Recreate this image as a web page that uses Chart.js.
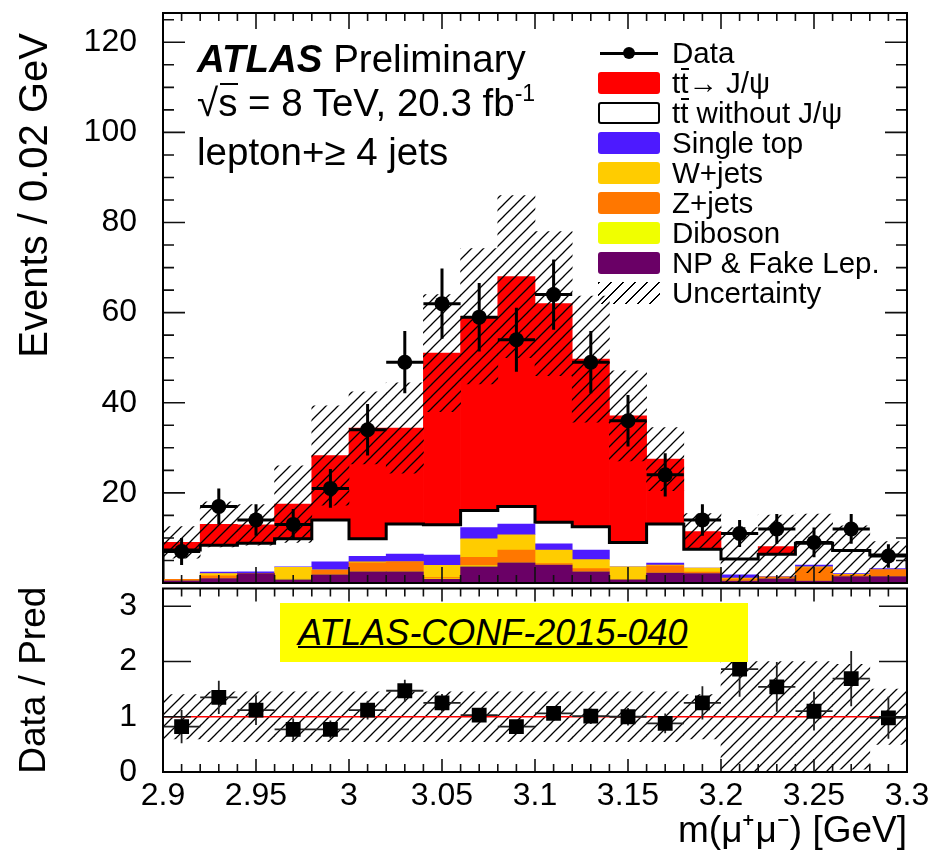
<!DOCTYPE html>
<html>
<head>
<meta charset="utf-8">
<title>m(mu+mu-) ATLAS-CONF-2015-040</title>
<script src="https://cdn.jsdelivr.net/npm/chart.js@4.4.1/dist/chart.umd.min.js"></script>
<style>
  html, body { margin: 0; padding: 0; background: #fff; }
  body { font-family: "Liberation Sans", Arial, sans-serif; color: #000; }
  #page { position: relative; width: 935px; height: 855px; overflow: hidden; }
  #mainChart { position: absolute; left: 0; top: 0; }
  #ratioChart { position: absolute; left: 0; top: 578px; }
  .lbl { position: absolute; white-space: nowrap; line-height: 1; }
  .ov { position: relative; }
  .ov::before { content: ""; position: absolute; left: 0.04em; right: -0.02em; top: 0.06em; height: 1.6px; background: #000; }
  .sup { font-size: 0.6em; vertical-align: 0.65em; }
  .row { position: absolute; left: 598px; height: 30px; display: flex; align-items: center; white-space: nowrap; }
  .sw { width: 62px; height: 22px; margin-right: 12px; border-radius: 3px; box-sizing: border-box; position: relative; flex: none; }
  .lt { font-size: 29.5px; line-height: 1; }
  .sw.data::before { content: ""; position: absolute; left: 2px; right: 2px; top: 10px; height: 2.5px; background: #000; }
  .sw.data::after { content: ""; position: absolute; left: 25px; top: 5px; width: 12px; height: 12px; border-radius: 50%; background: #000; }
  .sw.hatch { background: repeating-linear-gradient(-45deg, transparent 0 7px, #000 7px 8.4px); border-radius: 0; }
  #conf { position: absolute; left: 280px; top: 603px; width: 468px; height: 59px; background: #ffff00;
          display: flex; align-items: center; padding-left: 18px; box-sizing: border-box; }
  #conf span { font-size: 36px; font-style: italic; text-decoration: underline; text-decoration-thickness: 2px; line-height: 1; }
</style>
</head>
<body>
<div id="page">
  <canvas id="mainChart" width="935" height="600"></canvas>
  <canvas id="ratioChart" width="935" height="277"></canvas>

  <div class="lbl" style="left:197px; top:40px; font-size:38.5px;"><b><i>ATLAS</i></b> Preliminary</div>
  <div class="lbl" style="left:197px; top:82px; font-size:38.5px;">√<span class="ov">s</span> = 8 TeV, 20.3 fb<span class="sup">-1</span></div>
  <div class="lbl" style="left:197px; top:133px; font-size:38.5px;">lepton+≥ 4 jets</div>

  <div class="row" style="top:38px"><span class="sw data"></span><span class="lt">Data</span></div>
  <div class="row" style="top:68px"><span class="sw" style="background:#ff0000"></span><span class="lt">t<span class="ov">t</span>→ J/ψ</span></div>
  <div class="row" style="top:98px"><span class="sw" style="background:#fff; border:2.5px solid #000"></span><span class="lt">t<span class="ov">t</span> without J/ψ</span></div>
  <div class="row" style="top:128px"><span class="sw" style="background:#4d1aff"></span><span class="lt">Single top</span></div>
  <div class="row" style="top:158px"><span class="sw" style="background:#ffcc00"></span><span class="lt">W+jets</span></div>
  <div class="row" style="top:188px"><span class="sw" style="background:#ff7700"></span><span class="lt">Z+jets</span></div>
  <div class="row" style="top:218px"><span class="sw" style="background:#f0ff00"></span><span class="lt">Diboson</span></div>
  <div class="row" style="top:248px"><span class="sw" style="background:#6a0066"></span><span class="lt">NP &amp; Fake Lep.</span></div>
  <div class="row" style="top:278px"><span class="sw hatch"></span><span class="lt">Uncertainty</span></div>

  <div id="conf"><span>ATLAS-CONF-2015-040</span></div>
</div>

<script>
const FONT = '"Liberation Sans", Arial, sans-serif';

// bin centres in m(mu+mu-) [GeV], 0.02 GeV wide
const bins = [2.91, 2.93, 2.95, 2.97, 2.99, 3.01, 3.03, 3.05, 3.07, 3.09,
              3.11, 3.13, 3.15, 3.17, 3.19, 3.21, 3.23, 3.25, 3.27, 3.29];
const binWidth = 0.02;

// predicted events per bin, stack from bottom to top
const npFake    = [0.5, 1.0, 2.1, 0.7, 1.8, 2.5, 2.5, 0.8, 3.6, 4.5, 4.0, 2.5, 0.7, 2.2, 2.1, 0.4, 0.9, 0.4, 1.4, 1.4];
const diboson   = [0,   0,   0,   0.2, 0,   0,   0,   0.1, 0.2, 0,   0,   0,   0,   0,   0,   0,   0,   0,   0,   0];
const zJets     = [0.3, 0.6, 0,   0.1, 1.0, 2.0, 2.2, 0.3, 1.9, 2.8, 0.3, 0.7, 0,   1.6, 0.3, 0.5, 0.4, 3.0, 0.4, 1.5];
const wJets     = [0,   0.5, 0,   2.5, 0.1, 0.2, 0,   2.7, 4.1, 3.4, 3.0, 2.0, 2.9, 0.2, 0.9, 0.2, 0,   0.2, 0.1, 0];
const singleTop = [0,   0.3, 0.4, 0.1, 1.8, 1.2, 1.7, 2.3, 2.5, 2.4, 1.4, 2.1, 0,   0.4, 0,   0.7, 0.1, 0.4, 0.2, 0.3];
const ttOther   = [6.5, 6.0, 6.3, 6.2, 9.3, 3.9, 6.7, 6.7, 3.8, 3.9, 4.8, 5.2, 5.4, 8.7, 4.2, 3.5, 5.0, 4.8, 5.1, 3.0];
const ttJpsi    = [1.7, 4.6, 4.1, 7.7, 14.3, 24.6, 21.3, 38.1, 43.1, 51.0, 48.5, 37.2, 28.1, 14.4, 3.9, 0, 1.7, 0, 0, 0];
// half-width of the hatched uncertainty band
const mcUnc     = [3.5, 5, 4.5, 8.5, 11, 8, 10, 13, 15, 18, 16, 14, 10, 7, 4, 7, 7, 6.5, 5.5, 3];

// observed data
const dataCounts = [7, 17, 14, 13, 21, 34, 49, 62, 59, 54, 64, 49, 36, 24, 14, 11, 12, 9, 12, 6];
const dataErr    = [3.0, 4.0, 3.5, 3.4, 4.3, 5.7, 6.9, 7.8, 7.6, 7.1, 7.8, 6.9, 5.7, 4.8, 3.5, 3.0, 3.3, 3.3, 3.3, 2.6];

// ratio panel
const ratioVals = [0.82, 1.35, 1.12, 0.77, 0.77, 1.12, 1.47, 1.25, 1.03, 0.82, 1.06, 1.01, 1.00, 0.88, 1.25, 1.86, 1.54, 1.10, 1.69, 0.98];
const ratioErr  = [0.30, 0.30, 0.27, 0.20, 0.16, 0.17, 0.20, 0.16, 0.13, 0.11, 0.13, 0.14, 0.16, 0.18, 0.30, 0.50, 0.45, 0.35, 0.50, 0.38];
const ratioUnc  = [0.40, 0.45, 0.45, 0.45, 0.45, 0.45, 0.45, 0.45, 0.45, 0.45, 0.45, 0.45, 0.45, 0.45, 0.40, 1.00, 1.00, 1.00, 0.95, 0.50];
const unity = 1;

// axis ticks
const xTickVals = [2.9, 2.95, 3, 3.05, 3.1, 3.15, 3.2, 3.25, 3.3];
const yTickVals = [20, 40, 60, 80, 100, 120];
const ratioTickVals = [0, 1, 2, 3];

const binLabels = bins.map(String);
const xMin = 2.9, xMax = 3.3;
const yMax = 126.5, ratioMax = 3.32;

// diagonal hatch fill
function hatchPattern() {
  const c = document.createElement('canvas');
  c.width = 12; c.height = 12;
  const g = c.getContext('2d');
  g.strokeStyle = '#000';
  g.lineWidth = 1.3;
  g.beginPath();
  g.moveTo(-3, 15); g.lineTo(15, -3);
  g.moveTo(-3, 3); g.lineTo(3, -3);
  g.moveTo(9, 15); g.lineTo(15, 9);
  g.stroke();
  return g.createPattern(c, 'repeat');
}
const hatch = hatchPattern();

const total = bins.map((_, i) => npFake[i] + diboson[i] + zJets[i] + wJets[i] + singleTop[i] + ttOther[i] + ttJpsi[i]);
const belowJpsi = bins.map((_, i) => total[i] - ttJpsi[i]);

// step outline on top of the ttbar-without-J/psi histogram
const outline = [{x: xMin, y: 0}];
bins.forEach((c, i) => outline.push({x: c - binWidth / 2, y: belowJpsi[i]}));
outline.push({x: xMax, y: belowJpsi[bins.length - 1]});
outline.push({x: xMax, y: 0});

function errorSegments(vals, errs) {
  const pts = [];
  bins.forEach((c, i) => {
    pts.push({x: c, y: vals[i] - errs[i]}, {x: c, y: vals[i] + errs[i]}, {x: c, y: null});
    pts.push({x: c - binWidth / 2, y: vals[i]}, {x: c + binWidth / 2, y: vals[i]}, {x: c, y: null});
  });
  return pts;
}

// inward ticks on all four sides plus the frame
const frameTicks = {
  id: 'frameTicks',
  afterDraw(chart, args, o) {
    const {ctx, chartArea: a} = chart;
    const sx = chart.scales.xl, sy = chart.scales.y;
    ctx.save();
    ctx.strokeStyle = '#111';
    ctx.lineWidth = 1.6;
    ctx.beginPath();
    const xTick = (v, len) => {
      const p = sx.getPixelForValue(v);
      ctx.moveTo(p, a.bottom); ctx.lineTo(p, a.bottom - len);
      ctx.moveTo(p, a.top); ctx.lineTo(p, a.top + len);
    };
    const yTick = (v, len) => {
      const p = sy.getPixelForValue(v);
      ctx.moveTo(a.left, p); ctx.lineTo(a.left + len, p);
      ctx.moveTo(a.right, p); ctx.lineTo(a.right - len, p);
    };
    for (let k = 0; ; k++) {
      const v = sx.min + k * o.xMinor;
      if (v > sx.max + 1e-9) break;
      xTick(v, o.xMinLen);
    }
    o.xMajor.forEach(v => xTick(v, o.xMajLen));
    if (o.yMinor) {
      for (let k = 0; ; k++) {
        const v = sy.min + k * o.yMinor;
        if (v > sy.max + 1e-9) break;
        yTick(v, o.yMinLen);
      }
    }
    o.yMajor.forEach(v => yTick(v, o.yMajLen));
    ctx.stroke();
    ctx.lineWidth = 2;
    ctx.strokeStyle = '#000';
    ctx.strokeRect(a.left, a.top, a.right - a.left, a.bottom - a.top);
    ctx.restore();
  }
};

const tickFont = {family: FONT, size: 32};

// full-width histogram bars, one per bin
const histBar = {borderWidth: 0, grouped: false, barPercentage: 1, categoryPercentage: 1};

function barSet(label, data, color, order) {
  return Object.assign({label, data, backgroundColor: color, stack: 'mc', order,
                        xAxisID: 'x', yAxisID: 'y'}, histBar);
}

new Chart(document.getElementById('mainChart'), {
  type: 'bar',
  data: {
    labels: binLabels,
    datasets: [
      barSet('NP & Fake Lep.', npFake, '#6a0066', 10),
      barSet('Diboson', diboson, '#f0ff00', 10),
      barSet('Z+jets', zJets, '#ff7700', 10),
      barSet('W+jets', wJets, '#ffcc00', 10),
      barSet('Single top', singleTop, '#4d1aff', 10),
      barSet('tt without J/psi', ttOther, '#ffffff', 20),
      barSet('tt -> J/psi', ttJpsi, '#ff0000', 20),
      Object.assign({
        label: 'Uncertainty', data: bins.map((_, i) => [total[i] - mcUnc[i], total[i] + mcUnc[i]]),
        backgroundColor: hatch, order: 5, xAxisID: 'xh', yAxisID: 'yh'
      }, histBar),
      {
        type: 'line', label: 'outline', data: outline, xAxisID: 'xl', yAxisID: 'yd',
        borderColor: '#000', borderWidth: 3, stepped: true, pointRadius: 0, fill: false, order: 15
      },
      {
        type: 'line', label: 'data errors', data: errorSegments(dataCounts, dataErr), xAxisID: 'xl', yAxisID: 'yd',
        borderColor: '#000', borderWidth: 3, pointRadius: 0, spanGaps: false, fill: false, order: 2
      },
      {
        type: 'line', label: 'Data', data: bins.map((c, i) => ({x: c, y: dataCounts[i]})), xAxisID: 'xl', yAxisID: 'yd',
        showLine: false, pointRadius: 7.5, pointBackgroundColor: '#000', pointBorderWidth: 0, order: 1
      }
    ]
  },
  options: {
    responsive: false,
    animation: false,
    layout: {padding: {left: 0, right: 28, top: 13, bottom: 17}},
    plugins: {
      legend: {display: false},
      tooltip: {enabled: false},
      frameTicks: {xMajor: xTickVals, xMinor: 0.01, xMajLen: 16, xMinLen: 8,
                   yMajor: [0].concat(yTickVals), yMinor: 5, yMajLen: 22, yMinLen: 11}
    },
    scales: {
      x: {type: 'category', display: false, stacked: true, offset: true},
      xh: {type: 'category', display: false, offset: true, labels: binLabels},
      xl: {type: 'linear', display: false, min: xMin, max: xMax, offset: false},
      yd: {type: 'linear', display: false, min: 0, max: yMax},
      yh: {type: 'linear', display: false, min: 0, max: yMax},
      y: {
        type: 'linear', position: 'left', stacked: true, min: 0, max: yMax,
        grid: {display: false, drawTicks: false}, border: {display: false},
        ticks: {font: tickFont, color: '#000', padding: 26, callback: v => String(v)},
        afterBuildTicks: s => { s.ticks = yTickVals.map(v => ({value: v})); },
        afterFit: s => { s.width = 163; s.paddingTop = 0; s.paddingBottom = 0; },
        title: {display: true, text: 'Events / 0.02 GeV\u2002', align: 'end', color: '#000',
                font: {family: FONT, size: 40}, padding: {top: 12, bottom: 0}}
      }
    }
  },
  plugins: [frameTicks]
});

new Chart(document.getElementById('ratioChart'), {
  type: 'bar',
  data: {
    labels: binLabels,
    datasets: [
      Object.assign({
        label: 'Uncertainty', data: bins.map((_, i) => [unity - ratioUnc[i], unity + ratioUnc[i]]),
        backgroundColor: hatch, order: 5, xAxisID: 'x', yAxisID: 'y'
      }, histBar),
      {
        type: 'line', label: 'unity', data: [{x: xMin, y: unity}, {x: xMax, y: unity}], xAxisID: 'xl', yAxisID: 'y',
        borderColor: '#ff0000', borderWidth: 1.5, pointRadius: 0, fill: false, order: 4
      },
      {
        type: 'line', label: 'ratio errors', data: errorSegments(ratioVals, ratioErr), xAxisID: 'xl', yAxisID: 'y',
        borderColor: '#222', borderWidth: 1.8, pointRadius: 0, spanGaps: false, fill: false, order: 2
      },
      {
        type: 'line', label: 'Data / Pred', data: bins.map((c, i) => ({x: c, y: ratioVals[i]})), xAxisID: 'xl', yAxisID: 'y',
        showLine: false, pointStyle: 'rect', pointRadius: 10.5, pointBackgroundColor: '#000', pointBorderWidth: 0, order: 1
      }
    ]
  },
  options: {
    responsive: false,
    animation: false,
    layout: {padding: {left: 0, right: 28, top: 5, bottom: 0}},
    plugins: {
      legend: {display: false},
      tooltip: {enabled: false},
      frameTicks: {xMajor: xTickVals, xMinor: 0.01, xMajLen: 13, xMinLen: 8,
                   yMajor: ratioTickVals, yMinor: 0, yMajLen: 28, yMinLen: 0}
    },
    scales: {
      x: {type: 'category', display: false, offset: true},
      xl: {
        type: 'linear', position: 'bottom', min: xMin, max: xMax, offset: false,
        grid: {display: false, drawTicks: false, offset: false}, border: {display: false},
        ticks: {font: tickFont, color: '#000', padding: 5, maxRotation: 0, autoSkip: false, callback: v => String(v)},
        afterBuildTicks: s => { s.ticks = xTickVals.map(v => ({value: v})); },
        afterFit: s => { s.height = 83; s.paddingLeft = 0; s.paddingRight = 0; },
        title: {display: true, text: 'm(μ⁺μ⁻) [GeV]', align: 'end', color: '#000',
                font: {family: FONT, size: 37}, padding: {top: 0, bottom: 1}}
      },
      y: {
        type: 'linear', position: 'left', min: 0, max: ratioMax,
        grid: {display: false, drawTicks: false}, border: {display: false},
        ticks: {font: tickFont, color: '#000', padding: 26, callback: v => String(v)},
        afterBuildTicks: s => { s.ticks = ratioTickVals.map(v => ({value: v})); },
        afterFit: s => { s.width = 163; s.paddingTop = 0; s.paddingBottom = 0; },
        title: {display: true, text: 'Data / Pred', align: 'center', color: '#000',
                font: {family: FONT, size: 37}, padding: {top: 13, bottom: 0}}
      }
    }
  },
  plugins: [frameTicks]
});
</script>
</body>
</html>
